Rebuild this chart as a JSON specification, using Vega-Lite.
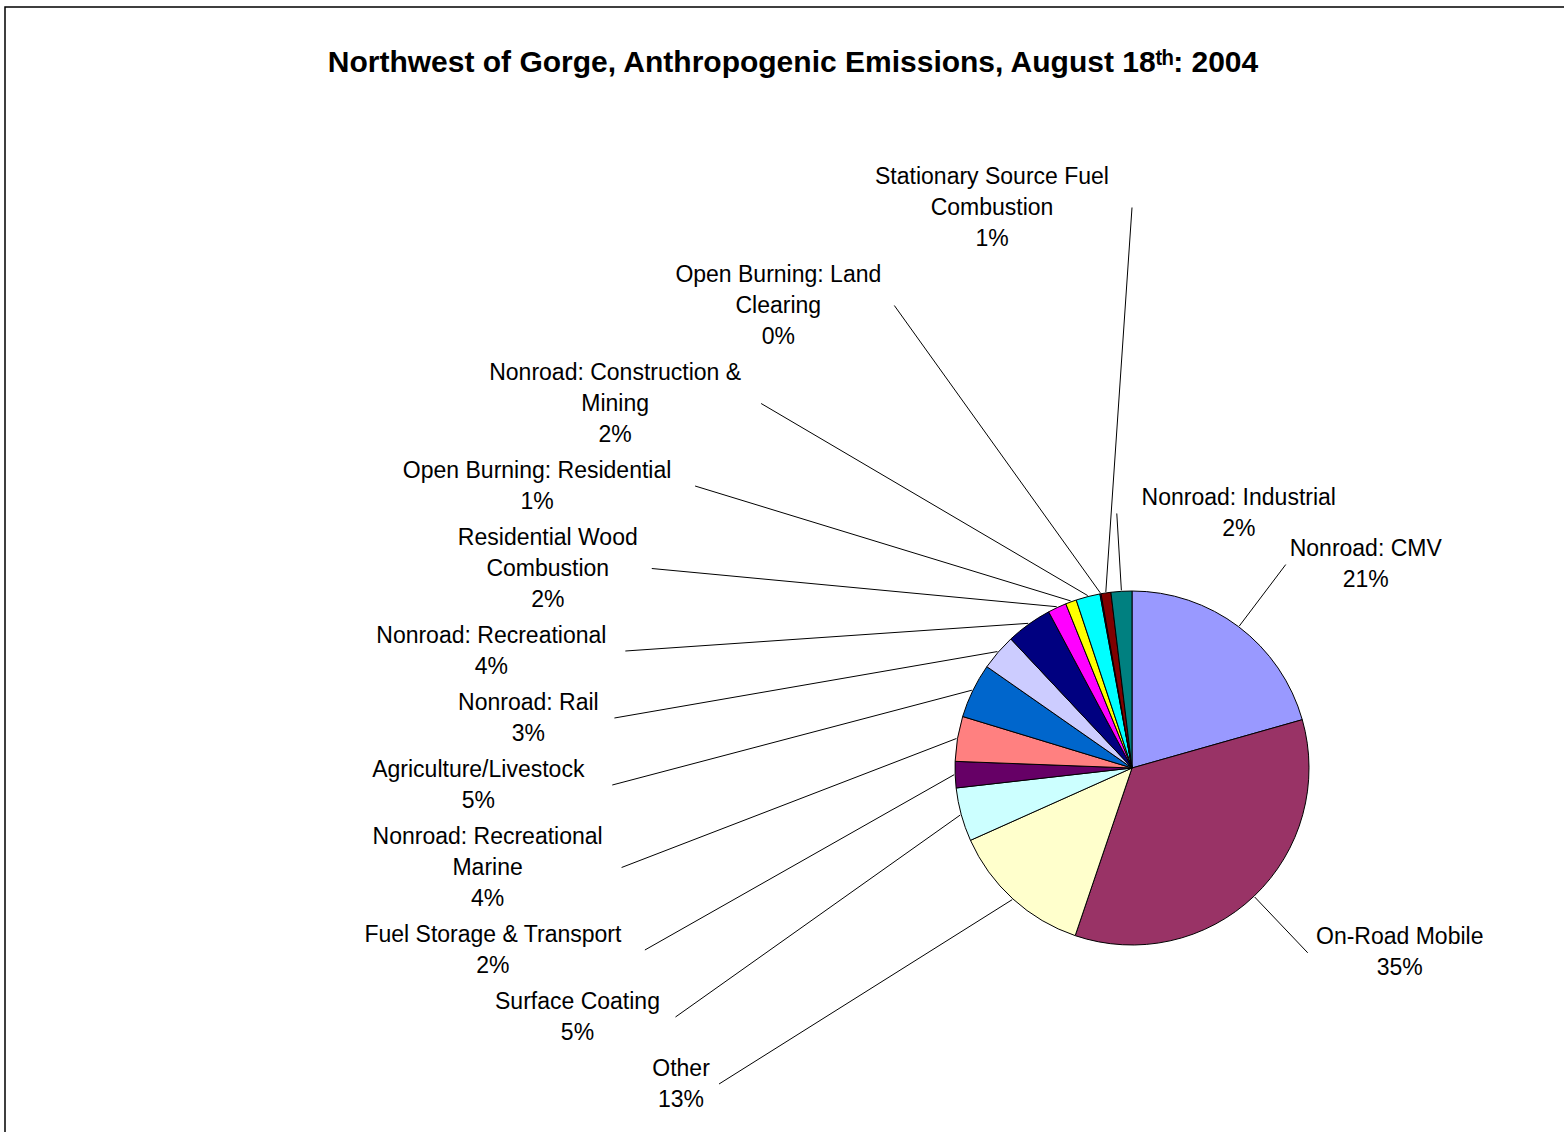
{
  "$schema": "https://vega.github.io/schema/vega-lite/v6.json",
  "width": 1564,
  "height": 1132,
  "autosize": {"type": "none"},
  "padding": {"left": 5, "top": 7, "right": 0, "bottom": 0},
  "background": "white",
  "config": {
    "view": {"stroke": "black", "strokeWidth": 1.5},
    "font": "Liberation Sans"
  },
  "title": {
    "text": "Northwest of Gorge, Anthropogenic Emissions, August 18ᵗʰ: 2004",
    "font": "Liberation Sans",
    "fontSize": 30,
    "fontWeight": "bold",
    "color": "black",
    "anchor": "middle",
    "offset": -71,
    "dx": 6
  },
  "data": {
    "values": [
      {"category": "Nonroad: CMV", "value": 20.6},
      {"category": "On-Road Mobile", "value": 34.6},
      {"category": "Other", "value": 13.1},
      {"category": "Surface Coating", "value": 4.9},
      {"category": "Fuel Storage & Transport", "value": 2.4},
      {"category": "Nonroad: Recreational Marine", "value": 4.1},
      {"category": "Agriculture/Livestock", "value": 5.0},
      {"category": "Nonroad: Rail", "value": 3.3},
      {"category": "Nonroad: Recreational", "value": 4.2},
      {"category": "Residential Wood Combustion", "value": 1.7},
      {"category": "Open Burning: Residential", "value": 1.0},
      {"category": "Nonroad: Construction & Mining", "value": 2.2},
      {"category": "Open Burning: Land Clearing", "value": 0.1},
      {"category": "Stationary Source Fuel Combustion", "value": 0.9},
      {"category": "Nonroad: Industrial", "value": 1.9}
    ]
  },
  "transform": [
    {"window": [{"op": "row_number", "as": "rank"}]},
    {"joinaggregate": [{"op": "sum", "field": "value", "as": "total"}]},
    {"window": [{"op": "sum", "field": "value", "as": "cumEnd"}], "sort": [{"field": "rank"}], "frame": [null, 0]},
    {"calculate": "2 * PI * (datum.cumEnd - datum.value / 2) / datum.total", "as": "mid"},
    {"calculate": "trim(replace(datum.category, regexp('(.{1,25})( +|$)', 'g'), '$1\\n')) + '\\n' + format(datum.value / datum.total, '.0%')", "as": "label"},
    {"calculate": "length(split(datum.label, '\\n'))", "as": "nl"},
    {"calculate": "max(length(split(datum.label, '\\n')[0]), length(split(datum.label, '\\n')[1]))", "as": "maxLen"},
    {"calculate": "sin(datum.mid) <= -0.1 ? 'left' : 'right'", "as": "side"},
    {"window": [{"op": "sum", "field": "nl", "as": "cumLines"}, {"op": "row_number", "as": "k"}], "groupby": ["side"], "sort": [{"field": "rank"}], "frame": [null, 0]},
    {"calculate": "178 * sin(datum.mid)", "as": "ex"},
    {"calculate": "-178 * cos(datum.mid)", "as": "ey"},
    {"calculate": "datum.side == 'left' ? 347 - (datum.cumLines - datum.nl / 2) * 31 - (datum.k - 1) * 5 : -255 * cos(datum.mid)", "as": "ay"},
    {"calculate": "datum.side == 'left' ? -sqrt(max(0, 520 * 520 - datum.ay * datum.ay)) : 255 * sin(datum.mid)", "as": "ax"},
    {"calculate": "datum.ax + (datum.side == 'left' ? -1 : 1) * (8 + datum.maxLen * 6)", "as": "tx"},
    {"calculate": "datum.ay - (datum.nl - 1) * 15.5", "as": "ty"}
  ],
  "layer": [
    {
      "mark": {"type": "arc", "outerRadius": 177, "stroke": "black", "strokeWidth": 1},
      "encoding": {
        "x": {"datum": 0, "type": "quantitative", "scale": {"domain": [-1127, 437], "nice": false, "zero": false}, "axis": null},
        "y": {"datum": 0, "type": "quantitative", "scale": {"domain": [-761, 371], "nice": false, "zero": false, "reverse": true}, "axis": null},
        "theta": {"field": "value", "type": "quantitative", "stack": true},
        "order": {"field": "rank", "type": "quantitative"},
        "color": {
          "field": "category",
          "type": "nominal",
          "legend": null,
          "scale": {
            "domain": ["Nonroad: CMV", "On-Road Mobile", "Other", "Surface Coating", "Fuel Storage & Transport", "Nonroad: Recreational Marine", "Agriculture/Livestock", "Nonroad: Rail", "Nonroad: Recreational", "Residential Wood Combustion", "Open Burning: Residential", "Nonroad: Construction & Mining", "Open Burning: Land Clearing", "Stationary Source Fuel Combustion", "Nonroad: Industrial"],
            "range": ["#9999FF", "#993366", "#FFFFCC", "#CCFFFF", "#660066", "#FF8080", "#0066CC", "#CCCCFF", "#000080", "#FF00FF", "#FFFF00", "#00FFFF", "#800080", "#800000", "#008080"]
          }
        }
      }
    },
    {
      "mark": {"type": "rule", "color": "black", "strokeWidth": 1},
      "encoding": {
        "x": {"field": "ex", "type": "quantitative", "scale": {"domain": [-1127, 437], "nice": false, "zero": false}, "axis": null},
        "y": {"field": "ey", "type": "quantitative", "scale": {"domain": [-761, 371], "nice": false, "zero": false, "reverse": true}, "axis": null},
        "x2": {"field": "ax"},
        "y2": {"field": "ay"}
      }
    },
    {
      "mark": {"type": "text", "font": "Liberation Sans", "fontSize": 23, "lineBreak": "\n", "lineHeight": 31, "align": "center", "baseline": "middle", "color": "black"},
      "encoding": {
        "x": {"field": "tx", "type": "quantitative", "scale": {"domain": [-1127, 437], "nice": false, "zero": false}, "axis": null},
        "y": {"field": "ty", "type": "quantitative", "scale": {"domain": [-761, 371], "nice": false, "zero": false, "reverse": true}, "axis": null},
        "text": {"field": "label"}
      }
    }
  ]
}
